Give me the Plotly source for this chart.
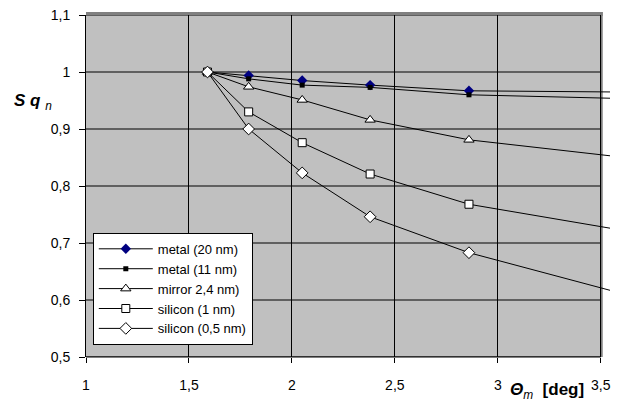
import plotly.graph_objects as go

# ---- data ----
theta = [1.59, 1.79, 2.05, 2.38, 2.86, 3.545]
metal_20 = [1.000, 0.994, 0.985, 0.977, 0.967, 0.965]
metal_11 = [1.000, 0.988, 0.977, 0.973, 0.960, 0.954]
mirror_24 = [1.000, 0.974, 0.951, 0.916, 0.881, 0.853]
silicon_1 = [1.000, 0.930, 0.876, 0.821, 0.768, 0.726]
silicon_05 = [1.000, 0.900, 0.823, 0.746, 0.683, 0.617]

series_names = ["metal (20 nm)", "metal (11 nm)", "mirror 2,4 nm)", "silicon (1 nm)", "silicon (0,5 nm)"]
series_values = [metal_20, metal_11, mirror_24, silicon_1, silicon_05]

x_ticks = [1, 1.5, 2, 2.5, 3, 3.5]
x_tick_labels = ["1", "1,5", "2", "2,5", "3", "3,5"]
y_ticks = [0.5, 0.6, 0.7, 0.8, 0.9, 1.0, 1.1]
y_tick_labels = ["0,5", "0,6", "0,7", "0,8", "0,9", "1", "1,1"]

# ---- styles ----
styles = [
    dict(symbol="diamond", size=8, color="#000080", line=dict(width=0)),
    dict(symbol="square", size=5, color="#000000", line=dict(width=0)),
    dict(symbol="triangle-up", size=9, color="#FFFFFF", line=dict(width=1, color="#000000")),
    dict(symbol="square", size=8, color="#FFFFFF", line=dict(width=1, color="#000000")),
    dict(symbol="diamond", size=9, color="#FFFFFF", line=dict(width=1, color="#000000")),
]

FONT = "Arial, 'Liberation Sans', sans-serif"
fig = go.Figure()

# line continuations beyond the last marker (no markers)
for name, vals in zip(series_names, series_values):
    fig.add_trace(go.Scatter(x=theta[-2:], y=vals[-2:], mode="lines",
                             line=dict(color="black", width=1),
                             showlegend=False, hoverinfo="skip"))

for name, vals, st in zip(series_names, series_values, styles):
    fig.add_trace(go.Scatter(x=theta[:-1], y=vals[:-1], mode="lines+markers", name=name,
                             line=dict(color="black", width=1), marker=st))

xmin, xmax = x_ticks[0], x_ticks[-1]
ymin, ymax = y_ticks[0], y_ticks[-1]

shapes = [
    # grey plot area
    dict(type="rect", xref="x", yref="y", x0=xmin, x1=xmax, y0=ymin, y1=ymax,
         fillcolor="#C0C0C0", line=dict(width=0), layer="below"),
]
# horizontal gridlines limited to the plot area
for yv in y_ticks:
    shapes.append(dict(type="line", xref="x", yref="y", x0=xmin, x1=xmax, y0=yv, y1=yv,
                       line=dict(color="black", width=1), layer="below"))
# shadow-like border top and right
shapes.append(dict(type="line", xref="x", yref="paper", x0=xmin, x1=xmax + 0.01, y0=1.003, y1=1.003,
                   line=dict(color="#808080", width=4), layer="between"))
shapes.append(dict(type="line", xref="x", yref="paper", x0=xmax, x1=xmax, y0=0, y1=1.009,
                   line=dict(color="#808080", width=4), layer="between"))
# bottom axis line
shapes.append(dict(type="line", xref="x", yref="paper", x0=xmin, x1=xmax, y0=0, y1=0,
                   line=dict(color="black", width=1), layer="above"))

fig.update_layout(
    width=621, height=405,
    margin=dict(l=86, r=11, t=15, b=48, autoexpand=False),
    paper_bgcolor="white", plot_bgcolor="white",
    font=dict(family=FONT, size=14, color="black"),
    separators=", ",
    shapes=shapes,
    showlegend=True,
    legend=dict(x=0.013, y=0.363, xanchor="left", yanchor="top",
                bgcolor="white", bordercolor="black", borderwidth=1,
                font=dict(family=FONT, size=13), itemwidth=54,
                tracegroupgap=0),
    xaxis=dict(range=[xmin, 3.545], tickvals=x_ticks, ticktext=x_tick_labels,
               showgrid=True, gridcolor="black", gridwidth=1, zeroline=False,
               showline=False, ticks="outside", ticklen=5, tickcolor="black",
               ticklabelstandoff=10, tickfont=dict(size=14), automargin=False),
    yaxis=dict(range=[ymin, ymax], tickvals=y_ticks, ticktext=y_tick_labels,
               showgrid=False, zeroline=False, showline=True, linecolor="black", linewidth=1,
               ticks="outside", ticklen=6, tickcolor="black",
               ticklabelstandoff=6, tickfont=dict(size=14), automargin=False),
    annotations=[
        dict(xref="paper", yref="paper", x=-0.141, y=0.746, xanchor="left", yanchor="middle",
             text="<b><i>S q</i></b> <i><sub>n</sub></i>", showarrow=False,
             font=dict(family=FONT, size=17)),
        dict(xref="paper", yref="paper", x=0.805, y=-0.098, xanchor="left", yanchor="middle",
             text="<b><i>Θ</i></b><i><sub>m</sub></i>  <b>[deg]</b>", showarrow=False,
             font=dict(family=FONT, size=17)),
    ],
)

fig.write_html("out.html", post_script="document.body.style.margin='0px';",
               config={"displayModeBar": False})
